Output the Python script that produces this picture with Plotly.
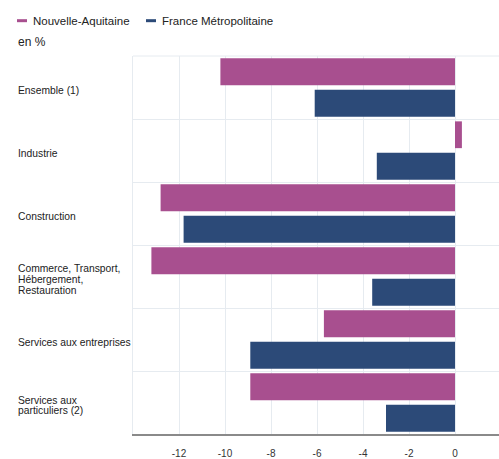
import plotly.graph_objects as go

# Data: variation by sector, in %
categories = [
    "Ensemble (1)",
    "Industrie",
    "Construction",
    "Commerce, Transport,<br>Hébergement,<br>Restauration",
    "Services aux entreprises",
    "Services aux<br>particuliers (2)",
]
nouvelle_aquitaine = [-10.2, 0.3, -12.8, -13.2, -5.7, -8.9]
france_metro = [-6.1, -3.4, -11.8, -3.6, -8.9, -3.0]
series_names = ["Nouvelle-Aquitaine", "France Métropolitaine"]
x_ticks = [-12, -10, -8, -6, -4, -2, 0, 2]
unit_label = "en %"

COLORS = ["#a84f8f", "#2c4a78"]
GRID = "#e6ebf0"
FONT = "Liberation Sans, Arial, sans-serif"

W, H = 499, 459
ML, MR, MT, MB = 133, 0, 56, 23
PW, PH = W - ML - MR, H - MT - MB


def px_x(px):
    return (px - ML) / PW


def px_y(py):
    return 1 - (py - MT) / PH


fig = go.Figure()
for name, vals, col in zip(series_names, [nouvelle_aquitaine, france_metro], COLORS):
    fig.add_trace(go.Bar(
        y=categories, x=vals, orientation="h", name=name,
        marker=dict(color=col, line=dict(width=0)),
        showlegend=False,
    ))

# Category labels, left aligned, one annotation per line
LINE_H = 10.7
for cat in categories:
    lines = cat.split("<br>")
    n = len(lines)
    for i, ln in enumerate(lines):
        offset = ((n - 1) / 2 - i) * LINE_H - 3
        fig.add_annotation(
            x=px_x(16), xref="paper", y=cat, yref="y",
            text=ln, showarrow=False, xanchor="left", yanchor="middle",
            yshift=offset, font=dict(family=FONT, size=10.3, color="#222"),
        )

# Legend: short colored dash followed by series name
legend_x = [(17, 27, 31), (146, 156, 160)]
for (x0, x1, xt), name, col in zip(legend_x, series_names, COLORS):
    fig.add_shape(type="line", xref="paper", yref="paper",
                  x0=px_x(x0), x1=px_x(x1), y0=px_y(20.5), y1=px_y(20.5),
                  line=dict(color=col, width=3))
    fig.add_annotation(x=px_x(xt), xref="paper", y=px_y(20.5), yref="paper",
                       text=name, showarrow=False, xanchor="left", yanchor="middle",
                       font=dict(family=FONT, size=11.5, color="#222"))

fig.add_annotation(x=px_x(16), xref="paper", y=px_y(41.5), yref="paper",
                   text=unit_label, showarrow=False, xanchor="left", yanchor="middle",
                   font=dict(family=FONT, size=12, color="#222"))

# Top border of the plotting area
fig.add_shape(type="line", xref="paper", yref="paper", x0=0, x1=1, y0=1, y1=1,
              line=dict(color=GRID, width=1), layer="below")

fig.update_layout(
    width=W, height=H,
    margin=dict(l=ML, r=MR, t=MT, b=MB, pad=0),
    paper_bgcolor="white", plot_bgcolor="white",
    barmode="group", bargap=0.0, bargroupgap=0.15,
    font=dict(family=FONT, size=10, color="#333"),
    xaxis=dict(
        range=[-14, (W - 455) / ((455 - ML) / 14)],
        tickvals=x_ticks, ticktext=[str(v) for v in x_ticks],
        showgrid=True, gridcolor=GRID, gridwidth=1,
        zeroline=False,
        showline=True, linecolor="#8a8a8a", linewidth=1.5,
        ticks="", ticklabelstandoff=9,
        tickfont=dict(family=FONT, size=10, color="#333"),
    ),
    yaxis=dict(
        autorange="reversed",
        showticklabels=False, ticks="",
        tickson="boundaries",
        showgrid=True, gridcolor=GRID, gridwidth=1,
        showline=True, linecolor=GRID, linewidth=1,
        mirror=False,
    ),
)

fig.write_html("out.html")
